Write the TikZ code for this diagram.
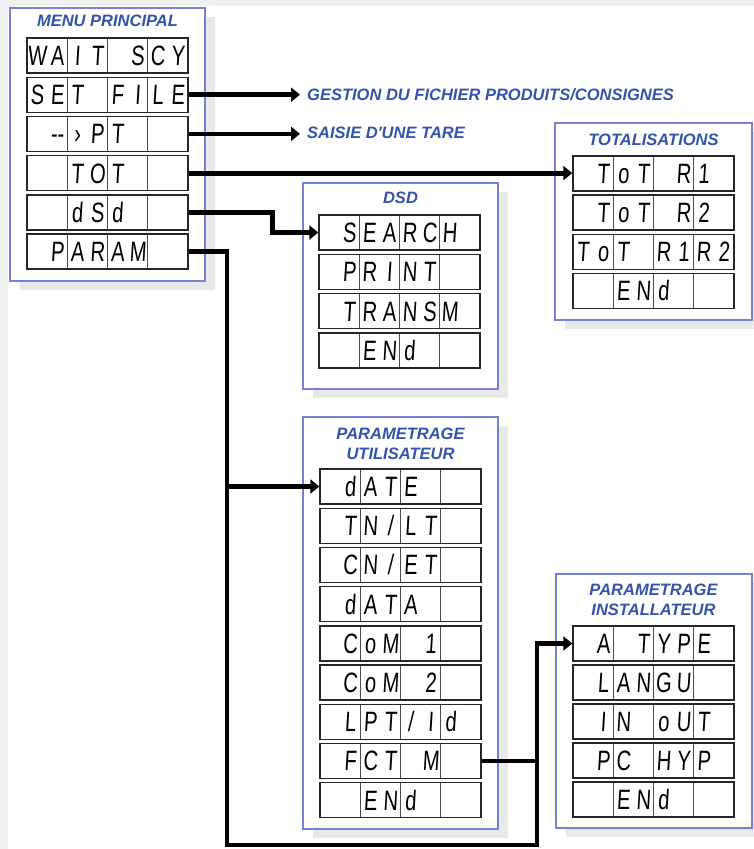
\documentclass[tikz,border=0pt]{standalone}
\usepackage{fontspec}
\setmainfont{Liberation Sans}
\newfontfamily\segfont[FakeStretch=0.72,FakeSlant=0.06]{Liberation Sans}
\usetikzlibrary{arrows.meta,calc,shadows}
\definecolor{titleblue}{RGB}{50,84,172}
\definecolor{frameblue}{RGB}{118,128,212}
\definecolor{bggray}{RGB}{240,240,240}
\definecolor{shadowgray}{RGB}{233,233,233}

\newcommand{\lcdrow}[3]{%
  \node[lcd] (#1) at (#2) {};
  \foreach \ch [count=\k] in {#3}
    \node[lcdchar] (#1-\k) at ([xshift={(\k-4.5)*20.1pt}]#1.center) {\ch};
}

\begin{document}
\begin{tikzpicture}[x=1pt, y=-1pt,
    panel/.style={draw=frameblue, line width=1.1pt, fill=white, inner sep=0pt,
      drop shadow={shadow xshift=10pt, shadow yshift=-9pt, fill=shadowgray, opacity=1}},
    paneltitle/.style={anchor=base, inner sep=0pt, text=titleblue,
      font=\fontsize{16.5}{20}\selectfont\bfseries\itshape},
    note/.style={anchor=base west, inner xsep=7pt, inner ysep=0pt, text=titleblue,
      font=\fontsize{16.5}{20}\selectfont\bfseries\itshape},
    lcd/.style={draw=black!85, line width=1.4pt, fill=white, minimum width=161pt,
      minimum height=35pt, inner sep=0pt,
      path picture={\foreach \i in {1,2,3}
        \draw[black!70, line width=1pt]
          ($(path picture bounding box.north west)!\i/4!(path picture bounding box.north east)$) --
          ($(path picture bounding box.south west)!\i/4!(path picture bounding box.south east)$);}},
    lcdchar/.style={inner sep=0pt, text height=20pt, text depth=0pt,
      font=\segfont\fontsize{28}{28}\selectfont},
    wire/.style={line width=4.8pt},
    flow/.style={wire, -{Triangle[length=9pt, width=14pt]}}]
  \useasboundingbox (0,0) rectangle (754,849);
  \fill[bggray] (0,0) rectangle (754,849);
  \fill[white] (8,6) rectangle (754,849);

  \node[panel, minimum width=195pt, minimum height=273pt] (menu) at (107.5,144.5) {};
  \node[panel, minimum width=195pt, minimum height=206pt] (dsdpanel) at (400.5,286) {};
  \node[panel, minimum width=197pt, minimum height=197pt] (totpanel) at (653.5,221.5) {};
  \node[panel, minimum width=195pt, minimum height=412pt] (userpanel) at (400.5,623) {};
  \node[panel, minimum width=196pt, minimum height=254pt] (instpanel) at (654,701) {};

  \node[paneltitle] (menutitle) at (107.5,26.5) {MENU PRINCIPAL};
  \node[paneltitle] (dsdtitle) at (400.5,203.5) {DSD};
  \node[paneltitle] (tottitle) at (653.5,145) {TOTALISATIONS};
  \node[paneltitle] (usertitle) at (400.5,439) {PARAMETRAGE};
  \node[paneltitle] (usertitleb) at (400.5,459) {UTILISATEUR};
  \node[paneltitle] (insttitle) at (653.5,595) {PARAMETRAGE};
  \node[paneltitle] (insttitleb) at (653.5,615) {INSTALLATEUR};

  \lcdrow{wait}{107.5,55.5}{W,A,I,T,{},S,C,Y}
  \lcdrow{setfile}{107.5,94.7}{S,E,T,{},F,I,L,E}
  \lcdrow{tare}{107.5,133.9}{{},-{}-,›,P,T,{},{},{}}
  \lcdrow{tot}{107.5,173.1}{{},{},T,O,T,{},{},{}}
  \lcdrow{dsd}{107.5,212.3}{{},{},d,S,d,{},{},{}}
  \lcdrow{param}{107.5,251.5}{{},P,A,R,A,M,{},{}}

  \lcdrow{search}{399.5,232.5}{{},S,E,A,R,C,H,{}}
  \lcdrow{print}{399.5,271.8}{{},P,R,I,N,T,{},{}}
  \lcdrow{transm}{399.5,311.1}{{},T,R,A,N,S,M,{}}
  \lcdrow{dsdend}{399.5,350.4}{{},{},E,N,d,{},{},{}}

  \lcdrow{totra}{653.5,173.5}{{},T,o,T,{},R,1,{}}
  \lcdrow{totrb}{653.5,212.6}{{},T,o,T,{},R,2,{}}
  \lcdrow{totrab}{653.5,251.7}{T,o,T,{},R,1,R,2}
  \lcdrow{totend}{653.5,290.8}{{},{},E,N,d,{},{},{}}

  \lcdrow{date}{400.5,486.5}{{},d,A,T,E,{},{},{}}
  \lcdrow{tnlt}{400.5,525.7}{{},T,N,/,L,T,{},{}}
  \lcdrow{cnet}{400.5,564.9}{{},C,N,/,E,T,{},{}}
  \lcdrow{data}{400.5,604.1}{{},d,A,T,A,{},{},{}}
  \lcdrow{coma}{400.5,643.3}{{},C,o,M,{},1,{},{}}
  \lcdrow{comb}{400.5,682.5}{{},C,o,M,{},2,{},{}}
  \lcdrow{lptid}{400.5,721.7}{{},L,P,T,/,I,d,{}}
  \lcdrow{fctm}{400.5,760.9}{{},F,C,T,{},M,{},{}}
  \lcdrow{userend}{400.5,800.1}{{},{},E,N,d,{},{},{}}

  \lcdrow{atype}{653.5,643.5}{{},A,{},T,Y,P,E,{}}
  \lcdrow{langu}{653.5,682.5}{{},L,A,N,G,U,{},{}}
  \lcdrow{inout}{653.5,721.5}{{},I,N,{},o,U,T,{}}
  \lcdrow{pchyp}{653.5,760.5}{{},P,C,{},H,Y,P,{}}
  \lcdrow{instend}{653.5,799.5}{{},{},E,N,d,{},{},{}}

  \node[note] (gestion) at (300,100) {GESTION DU FICHIER PRODUITS/CONSIGNES};
  \node[note] (saisie) at (300,138) {SAISIE D\textquotesingle UNE TARE};

  \coordinate (lowleft) at (227,845);
  \coordinate (lowright) at (537,845);

  \draw[flow] (setfile.east) -- (setfile.east -| gestion.west);
  \draw[flow] (tare.east) -- (tare.east -| saisie.west);
  \draw[flow] (tot.east) -- (tot.east -| totra.west);
  \draw[flow] (dsd.east) -| ($(search.west)+(-46,0)$) -- (search.west);
  \draw[flow] (param.east) -| (lowleft) -- (lowright) |- (atype.west);
  \draw[flow] (lowleft |- date.west) -- (date.west);
  \draw[wire] (fctm.east) -- (fctm.east -| lowright);
\end{tikzpicture}
\end{document}
